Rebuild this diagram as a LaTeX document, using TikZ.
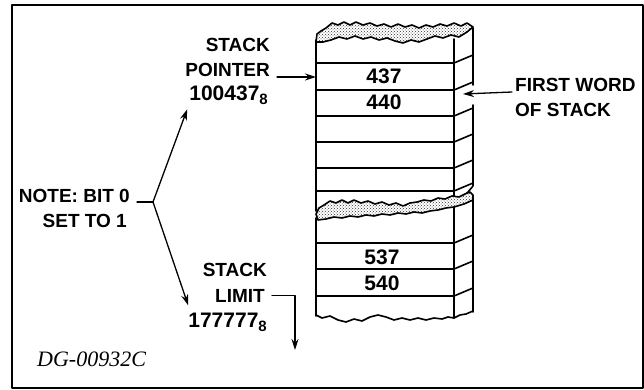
\documentclass[tikz,border=0pt]{standalone}
\usepackage{fontspec}
\setsansfont{Liberation Sans}
\newfontfamily\dgfont{Liberation Serif}
\usetikzlibrary{arrows.meta,patterns}

\begin{document}
\begin{tikzpicture}[x=1pt, y=-1pt, line join=round, line cap=round, >={Stealth[length=11pt,width=7pt]}]
	\tikzset{lab/.style={font=\fontsize{19}{22}\selectfont\sffamily\bfseries, inner sep=0pt},
		num/.style={lab, font=\fontsize{21}{24}\selectfont\sffamily\bfseries},
		blk/.style={line width=1.6pt},
		arr/.style={->, line width=1.3pt},
		band/.style={blk, preaction={fill=white}, pattern=crosshatch dots, pattern color=black!80}}
	\def\octal#1{\raisebox{-4pt}{\fontsize{15}{15}\selectfont #1}}
	%Khung
	\def\xl{316}
	\def\xr{454}
	\def\xs{473}
	\useasboundingbox (0,0) rectangle (644,390);
	\draw[line width=1.8pt] (12,5) rectangle (643,388);
	
	%Khoi tren
	\foreach \y in {63,90,116,142,168,191}
	\draw[blk] (\xl,\y) -- (\xr,\y) -- (\xs,\y-8);
	\draw[blk] (\xl,40) -- (\xl,211);
	\draw[blk] (\xr,39) -- (\xr,200);
	\draw[blk] (\xs,28) -- (\xs,85) (\xs,105) -- (\xs,186) -- (468,192) -- (463,197);
	\draw[band] (316,42) -- (317,34) -- (321,31) -- (326,28) -- (332,23) -- (338,25) -- (344,22) -- (350,25) -- (356,22) -- (363,25) -- (370,23) -- (377,26) -- (384,24) -- (391,27) -- (398,24) -- (405,27) -- (412,25) -- (419,28) -- (426,25) -- (433,27) -- (440,24) -- (447,26) -- (454,23) -- (461,26) -- (467,23) -- (473,27)
	-- (467,32) -- (459,37) -- (451,35) -- (443,38) -- (435,36) -- (427,39) -- (419,42) -- (411,40) -- (403,43) -- (395,41) -- (387,38) -- (379,40) -- (371,37) -- (363,39) -- (355,36) -- (347,39) -- (339,37) -- (331,40) -- (323,42) -- cycle;
	
	%Khoi duoi
	\draw[band] (316,214) -- (319,208) -- (324,205) -- (330,201) -- (336,203) -- (342,200) -- (348,203) -- (354,200) -- (361,203) -- (368,201) -- (375,204) -- (382,202) -- (389,205) -- (396,203) -- (403,206) -- (410,203) -- (417,202) -- (424,200) -- (431,201) -- (438,198) -- (445,199) -- (452,196) -- (459,197) -- (465,194) -- (470,192) -- (473,195)
	-- (473,200) -- (464,204) -- (454,207) -- (446,208) -- (438,210) -- (430,211) -- (422,213) -- (414,212) -- (406,214) -- (398,213) -- (390,215) -- (382,214) -- (374,216) -- (366,215) -- (358,217) -- (350,216) -- (342,218) -- (334,217) -- (326,219) -- (318,220) -- cycle;
	\draw[blk] (\xl,218) -- (\xl,316);
	\draw[blk] (\xr,207) -- (\xr,318);
	\draw[blk] (\xs,199) -- (\xs,312);
	\foreach \y in {243,269,296}
	\draw[blk] (\xl,\y) -- (\xr,\y) -- (\xs,\y-8);
	\draw[blk] (316,315) -- (322,318) -- (330,316) -- (338,320) -- (346,322) -- (354,319) -- (362,321) -- (370,317) -- (378,315) -- (386,317) -- (394,320) -- (402,318) -- (410,320) -- (418,318) -- (426,320) -- (434,318) -- (442,319) -- (448,317) -- (454,318) -- (460,315) -- (466,314) -- (473,311);
	
	%O nho
	\node[num, anchor=base] (w437) at (384,84) {437};
	\node[num, anchor=base] (w440) at (384,110) {440};
	\node[num, anchor=base] (w537) at (382,264) {537};
	\node[num, anchor=base] (w540) at (382,290) {540};
	
	%Nhan
	\node[lab, anchor=base east] (spa) at (270,52) {STACK};
	\node[lab, anchor=base east] (spb) at (270,77) {POINTER};
	\node[num, anchor=base east] (spc) at (268,101) {100437\octal{8}};
	\node[lab, anchor=base east] (nta) at (130,202) {NOTE: BIT 0};
	\node[lab, anchor=base east] (ntb) at (127,227) {SET TO 1};
	\node[lab, anchor=base east] (sla) at (267,276) {STACK};
	\node[lab, anchor=base east] (slb) at (265,302) {LIMIT};
	\node[num, anchor=base east] (slc) at (267,327) {177777\octal{8}};
	\node[lab, anchor=base west] (fwa) at (515,92) {FIRST WORD};
	\node[lab, anchor=base west] (fwb) at (515,117) {OF STACK};
	\node[anchor=base west, inner sep=0pt, font=\dgfont\itshape\fontsize{22}{24}\selectfont] (dg) at (37,366) {DG-00932C};
	
	%Mui ten
	\coordinate (ptr) at (\xl,77);
	\coordinate (fork) at (153,202);
	\coordinate (fwtip) at (463,94);
	\coordinate (lim) at (295,350);
	\draw[arr] ([xshift=7pt]spb.base east) -- (ptr);
	\draw[line width=1.3pt] ([xshift=7pt]nta.base east) -- (fork);
	\draw[arr] (fork) -- ([xshift=-2pt,yshift=-4pt]spc.south west);
	\draw[arr] (fork) -- ([yshift=7pt]slc.north west);
	\draw[arr] ([xshift=7pt]slb.east) -| (lim);
	\draw[arr] ([xshift=-3pt]fwa.base west) -- (fwtip);
\end{tikzpicture}
\end{document}
